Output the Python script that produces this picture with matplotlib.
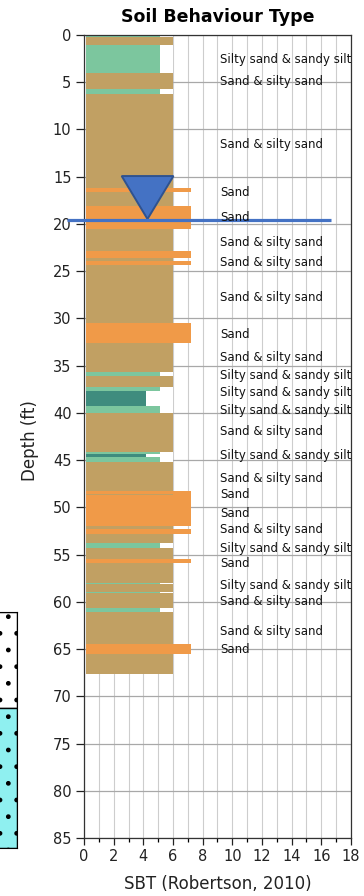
import matplotlib
matplotlib.use("Agg")
import matplotlib.pyplot as plt
from matplotlib.patches import Rectangle, Polygon

layer_top = [0.0, 0.2, 1.05, 4.1, 5.7, 6.3, 16.2, 16.6, 18.1, 20.5, 22.9, 23.6, 23.9,
             24.4, 30.45, 32.6, 35.7, 36.1, 37.3, 37.7, 39.25, 40.05, 44.1, 44.35, 44.7,
             45.2, 48.3, 48.75, 52.0, 52.3, 52.85, 53.8, 54.3, 55.5, 55.9, 57.95, 58.1,
             58.95, 59.1, 60.6, 61.1, 64.5, 65.5]
layer_bot = [0.2, 1.05, 4.1, 5.7, 6.3, 16.2, 16.6, 18.1, 20.5, 22.9, 23.6, 23.9, 24.4,
             30.45, 32.6, 35.7, 36.1, 37.3, 37.7, 39.25, 40.05, 44.1, 44.35, 44.7, 45.2,
             48.3, 48.75, 52.0, 52.3, 52.85, 53.8, 54.3, 55.5, 55.9, 57.95, 58.1, 58.95,
             59.1, 60.6, 61.1, 64.5, 65.5, 67.6]
layer_sbt = [5.1, 6.0, 5.1, 6.0, 5.1, 6.0, 7.2, 6.0, 7.2, 6.0, 7.2, 6.0, 7.2,
             6.0, 7.2, 6.0, 5.1, 6.0, 5.1, 4.15, 5.1, 6.0, 5.1, 4.15, 5.1,
             6.0, 7.2, 7.2, 6.0, 7.2, 6.0, 5.1, 6.0, 7.2, 6.0, 5.1, 6.0,
             5.1, 6.0, 5.1, 6.0, 7.2, 6.0]
# thin brown streak inside the big sand layer
streak_top, streak_bot, streak_sbt = [48.6], [48.72], [6.0]

label_depth = [2.6, 5.0, 11.6, 16.7, 19.3, 22.0, 24.1, 27.8, 31.7, 34.1, 36.0, 37.8,
               39.7, 42.0, 44.5, 46.9, 48.6, 50.6, 52.3, 54.3, 55.9, 58.3, 60.0, 63.1, 65.0]
SS = "Silty sand & sandy silt"
SA = "Sand & silty sand"
label_text = [SS, SA, SA, "Sand", "Sand", SA, SA, SA, "Sand", SA, SS, SS,
              SS, SA, SS, SA, "Sand", "Sand", SA, SS, "Sand", SS, SA, SA, "Sand"]

water_depth = 19.6

# soil log strip on the left (depth ranges, ft)
log_top = [60.9, 71.1]
log_bot = [71.1, 85.8]
log_col = ["white", "#8ff0f0"]

colors = {4: "#3f8c7e", 5: "#7cc69e", 6: "#c1a063", 7: "#f09a48"}

def col_for(v):
    return colors[int(round(v))]

fig = plt.figure(figsize=(3.64, 8.96), dpi=100)
ax = fig.add_axes([84/364, 57.7/896, 267/364, 803.6/896])
ax.set_xlim(0, 18)
ax.set_ylim(85, 0)
ax.set_axisbelow(True)

ax.set_yticks(range(0, 90, 5))
ax.set_xticks(range(0, 20, 2))
ax.set_xticks(range(1, 19, 2), minor=True)
ax.tick_params(axis="y", length=6, width=0.9, pad=3, labelsize=10.5, colors="#222222")
ax.tick_params(axis="x", which="major", length=5, width=0.9, pad=3, labelsize=10.5, colors="#222222")
ax.tick_params(axis="x", which="minor", length=3, width=0.9)
ax.grid(axis="x", which="both", color="#cdcdcd", lw=0.8)
ax.grid(axis="y", which="major", color="#a8a8a8", lw=0.9)
for s in ax.spines.values():
    s.set_color("#333333")
    s.set_linewidth(0.9)

# white column behind the bars
ax.add_patch(Rectangle((0.15, 0), 6.0 - 0.15, layer_bot[-1], facecolor="white",
                       edgecolor="none", antialiased=False, zorder=1))

x0 = 0.15
for t, b, v in zip(layer_top + streak_top, layer_bot + streak_bot, layer_sbt + streak_sbt):
    ax.add_patch(Rectangle((x0, t), v - x0, b - t, facecolor=col_for(v), edgecolor="none",
                           antialiased=False, zorder=2))

# water table marker
ax.add_patch(Polygon([(2.54, 14.95), (6.03, 14.95), (4.28, 19.5)], closed=True,
                     facecolor="#4472c4", edgecolor="#2f528f", lw=1.4, zorder=4))
ax.plot([-1.13, 16.67], [water_depth, water_depth], color="#4472c4", lw=2.3,
        solid_capstyle="butt", clip_on=False, zorder=5)

for d, txt in zip(label_depth, label_text):
    ax.text(9.2, d, txt, ha="left", va="center", fontsize=8.5,
            family=["Liberation Sans Narrow", "DejaVu Sans Condensed", "DejaVu Sans"],
            color="#111111", zorder=6, clip_on=False)

fig.text(217.5/364, 1 - 16.5/896, "Soil Behaviour Type", ha="center", va="center",
         fontsize=12.5, fontweight="bold")
fig.text(30/364, 1 - 441/896, "Depth (ft)", rotation=90, ha="center", va="center",
         fontsize=12, color="#222222")
fig.text(218/364, 1 - 884/896, "SBT (Robertson, 2010)", ha="center", va="center",
         fontsize=12, color="#222222")

# partial soil log on the far left
plt.rcParams["hatch.linewidth"] = 1.0
lax = fig.add_axes([-40/364, 48/896, 56.7/364, 236.3/896])
lax.set_xlim(0, 1)
lax.set_ylim(log_bot[-1], log_top[0])
lax.set_xticks([])
lax.set_yticks([])
for t, b, c in zip(log_top, log_bot, log_col):
    lax.add_patch(Rectangle((0, t), 1, b - t, facecolor=c, edgecolor="black", lw=1.0, hatch="."))
for s in lax.spines.values():
    s.set_color("black")

fig.savefig("out.png", dpi=100)
